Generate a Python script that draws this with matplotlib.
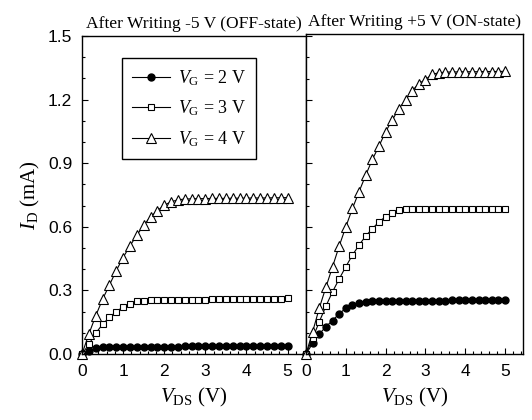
"""
Transfer curves I_D vs V_DS after writing -5 V and +5 V.
"""
import matplotlib
matplotlib.use("Agg")
import matplotlib.pyplot as plt
from matplotlib.ticker import MultipleLocator

plt.rcParams["mathtext.fontset"] = "custom"
plt.rcParams["mathtext.rm"] = "Liberation Serif"
plt.rcParams["mathtext.it"] = "Liberation Serif:italic"
plt.rcParams["font.family"] = ["Liberation Sans", "DejaVu Sans"]

# sweep grid (V)
vds = [0.0, 0.167, 0.333, 0.5, 0.667, 0.833, 1.0, 1.167, 1.333, 1.5, 1.667,
       1.833, 2.0, 2.167, 2.333, 2.5, 2.667, 2.833, 3.0, 3.167, 3.333,
       3.5, 3.667, 3.833, 4.0, 4.167, 4.333, 4.5, 4.667, 4.833, 5.0]

# after writing -5 V (OFF-state), mA
off_vg2 = [0.0, 0.015, 0.027, 0.031, 0.033, 0.034, 0.034, 0.035, 0.035, 0.035,
           0.035, 0.035, 0.035, 0.035, 0.035, 0.036, 0.036, 0.036, 0.036, 0.036,
           0.036, 0.036, 0.036, 0.036, 0.037, 0.037, 0.037, 0.037, 0.037, 0.037, 0.037]
off_vg3 = [0.0, 0.045, 0.098, 0.14, 0.173, 0.2, 0.222, 0.238, 0.248, 0.252,
           0.254, 0.255, 0.255, 0.256, 0.256, 0.256, 0.257, 0.257, 0.257, 0.258,
           0.258, 0.258, 0.259, 0.259, 0.259, 0.26, 0.26, 0.26, 0.261, 0.261, 0.262]
off_vg4 = [0.0, 0.094, 0.18, 0.258, 0.325, 0.393, 0.455, 0.51, 0.56, 0.607,
           0.647, 0.676, 0.702, 0.718, 0.727, 0.731, 0.732, 0.733, 0.733, 0.734,
           0.734, 0.734, 0.735, 0.735, 0.735, 0.736, 0.736, 0.736, 0.737, 0.737, 0.738]

# after writing +5 V (ON-state), mA
on_vg2 = [0.0, 0.05, 0.094, 0.129, 0.158, 0.19, 0.216, 0.233, 0.243, 0.247,
          0.249, 0.25, 0.25, 0.25, 0.251, 0.251, 0.251, 0.251, 0.252, 0.252,
          0.252, 0.252, 0.253, 0.253, 0.253, 0.253, 0.254, 0.254, 0.254, 0.255, 0.255]
on_vg3 = [0.0, 0.074, 0.152, 0.226, 0.294, 0.354, 0.412, 0.467, 0.514, 0.557,
          0.591, 0.624, 0.648, 0.667, 0.679, 0.682, 0.683, 0.683, 0.683, 0.684,
          0.684, 0.684, 0.684, 0.685, 0.685, 0.685, 0.685, 0.686, 0.686, 0.686, 0.686]
on_vg4 = [0.0, 0.105, 0.216, 0.315, 0.412, 0.509, 0.6, 0.687, 0.766, 0.844,
          0.918, 0.981, 1.049, 1.104, 1.158, 1.198, 1.242, 1.276, 1.295, 1.319,
          1.327, 1.33, 1.331, 1.331, 1.332, 1.332, 1.332, 1.333, 1.333, 1.333, 1.334]

gate_labels = [r"$V_{\mathrm{G}}$ = 2 V", r"$V_{\mathrm{G}}$ = 3 V", r"$V_{\mathrm{G}}$ = 4 V"]
titles = ["After Writing -5 V (OFF-state)", "After Writing +5 V (ON-state)"]

SERIF = "Liberation Serif"
W, H = 532, 420

styles = [
    dict(marker="o", markersize=5, markerfacecolor="black", markeredgecolor="black"),
    dict(marker="s", markersize=5, markerfacecolor="white", markeredgecolor="black", markeredgewidth=0.8),
    dict(marker="^", markersize=7, markerfacecolor="white", markeredgecolor="black", markeredgewidth=0.8),
]

fig = plt.figure(figsize=(W / 100, H / 100), dpi=100)
ax_off = fig.add_axes([82 / W, (H - 354) / H, 224 / W, 318 / H])
ax_on = fig.add_axes([306 / W, (H - 354) / H, 217 / W, 320 / H])


def draw_panel(ax, curves, title, ymax, title_pad):
    for ys, st, lab in zip(curves, styles, gate_labels):
        ax.plot(vds, ys, color="black", linewidth=0.8, clip_on=False, label=lab, **st)
    ax.set_xlim(0, 5.45)
    ax.set_ylim(0, ymax)
    ax.xaxis.set_major_locator(MultipleLocator(1))
    ax.xaxis.set_minor_locator(MultipleLocator(0.2))
    ax.yaxis.set_major_locator(MultipleLocator(0.3))
    ax.yaxis.set_minor_locator(MultipleLocator(0.1))
    ax.tick_params(which="both", direction="in", top=False, right=False,
                   labelsize=12.5, pad=7)
    ax.tick_params(which="major", length=4, width=0.8)
    ax.tick_params(which="minor", length=2.5, width=0.8)
    for sp in ax.spines.values():
        sp.set_linewidth(1.0)
    ax.set_xlabel(r"$V_{\mathrm{DS}}$ (V)", fontsize=15, family=SERIF, labelpad=5)
    ax.set_title(title, fontsize=12.6, family=SERIF, pad=title_pad)


draw_panel(ax_off, [off_vg2, off_vg3, off_vg4], titles[0], 1.5, 6)
draw_panel(ax_on, [on_vg2, on_vg3, on_vg4], titles[1], 1.51, 6)

ax_off.yaxis.set_major_formatter(plt.FormatStrFormatter("%.1f"))
ax_off.set_ylabel(r"$I_{\mathrm{D}}$ (mA)", fontsize=15, family=SERIF, labelpad=4)
ax_on.tick_params(axis="y", labelleft=False)

leg = ax_off.legend(loc="upper left", bbox_to_anchor=(0.179, 0.931),
                    borderaxespad=0,
                    prop={"family": SERIF, "size": 13}, frameon=True,
                    fancybox=False, edgecolor="black", framealpha=1,
                    handlelength=2.1, borderpad=0.55, labelspacing=0.6,
                    handletextpad=0.45)
leg.get_frame().set_linewidth(1.0)

fig.savefig("out.png", dpi=100)
